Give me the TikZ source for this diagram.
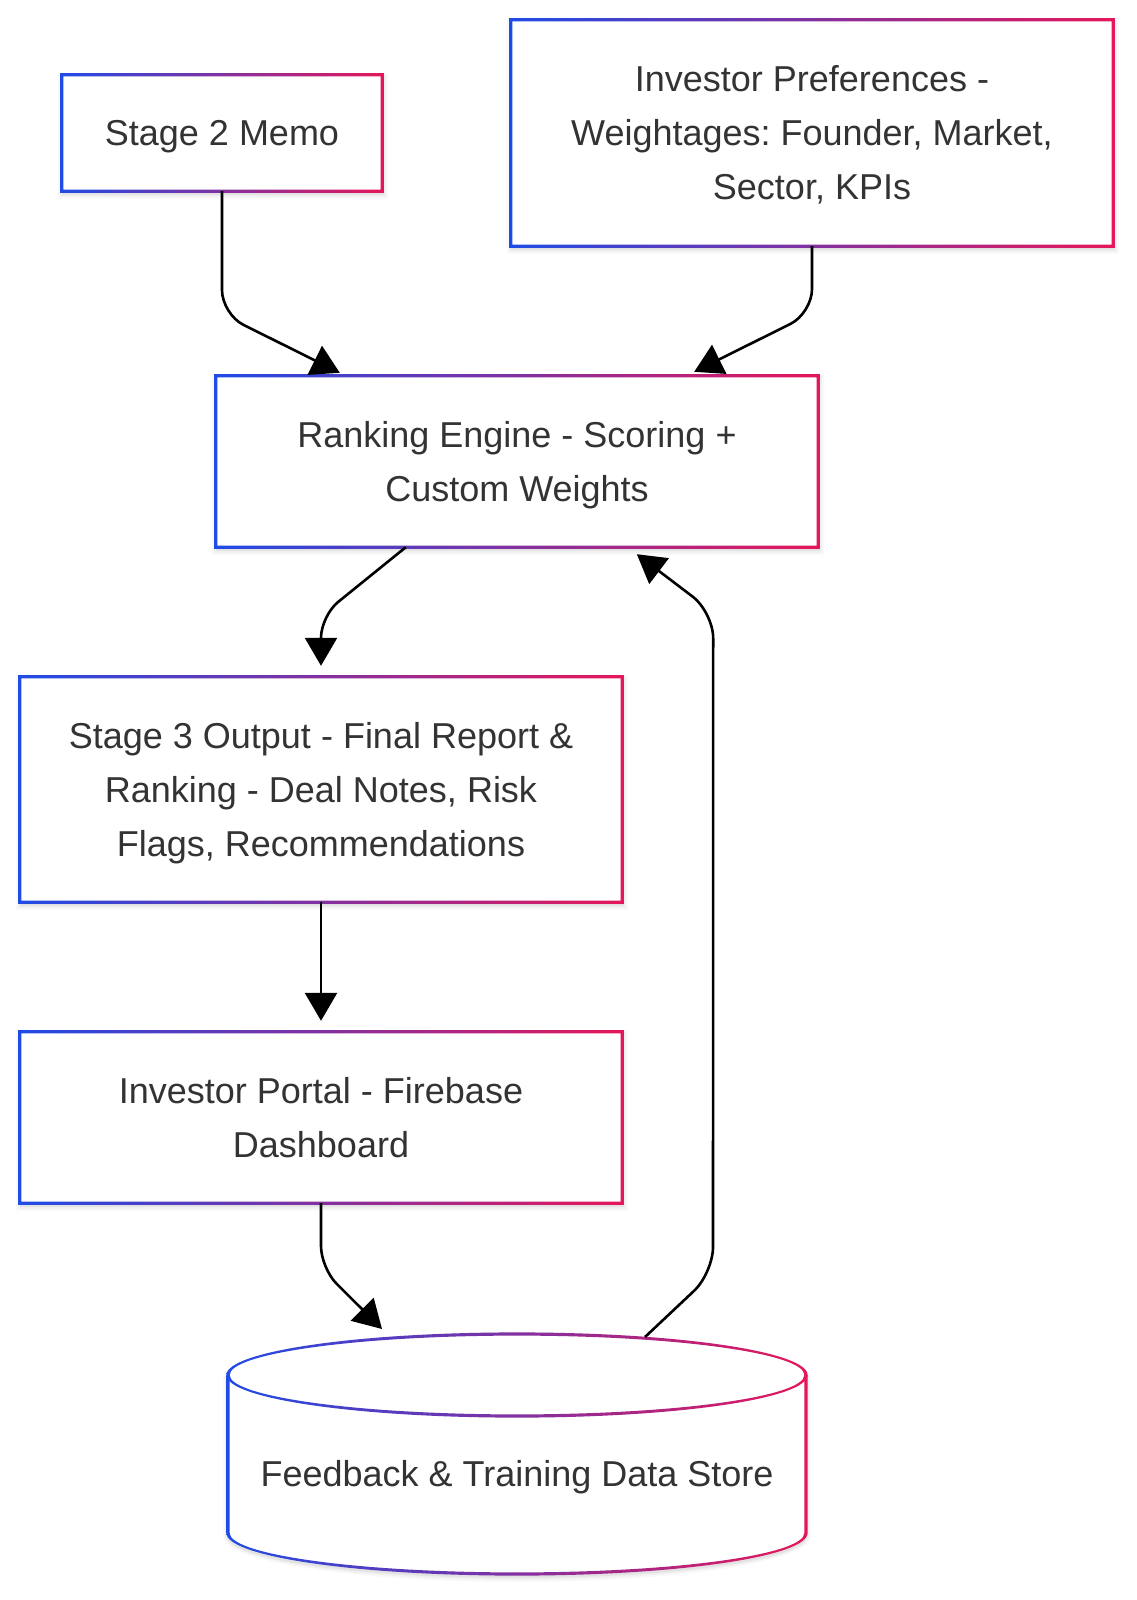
\documentclass[tikz,border=0pt]{standalone}
\usepackage{fontspec}
\setmainfont{Liberation Sans}
\usetikzlibrary{arrows.meta,calc,backgrounds}
\frenchspacing
\definecolor{gblue}{HTML}{1F4BE6}
\definecolor{gred}{HTML}{E6175A}
\definecolor{txt}{HTML}{333333}
\newcommand\lsx{\rule[-14.5pt]{0pt}{54pt}}
\newcommand\gradrect[1]{%
  \begin{scope}[even odd rule]
    \clip ($(#1.north west)+(-1.6,-1.6)$) rectangle ($(#1.south east)+(1.6,1.6)$)
          ($(#1.north west)+(1.6,1.6)$) rectangle ($(#1.south east)+(-1.6,-1.6)$);
    \shade[left color=gblue, right color=gred] ($(#1.north west)+(-2,-2)$) rectangle ($(#1.south east)+(2,2)$);
  \end{scope}}
\newcommand\shadowrect[1]{%
  \foreach \s/\o in {1/0.05,3/0.035,5/0.025} {%
    \fill[black,opacity=\o] ($(#1.north west)+(1-\s,3-\s)$) rectangle ($(#1.south east)+(1+\s,3+\s)$);}}
\tikzset{
  box/.style={rectangle, fill=white, inner sep=0pt, align=center, text=txt,
    font=\fontsize{36pt}{54pt}\selectfont, minimum width=602pt},
  arr/.style={draw=black, line width=2.6pt, -{Triangle[length=28pt,width=32pt]}},
}
\begin{document}
\begin{tikzpicture}[x=1pt, y=-1pt, line join=round]
\useasboundingbox (0,0) rectangle (1137,1600);

% boxes
\node[box, minimum width=320pt, minimum height=116pt] (memo) at (222,133) {\lsx Stage 2 Memo};
\node[box, minimum height=226pt] (prefs) at (812,133)
  {\lsx Investor Preferences -\\\lsx Weightages: Founder, Market,\\\lsx Sector, KPIs};
\node[box, minimum height=171pt] (ranking) at (517,461.5)
  {\lsx Ranking Engine - Scoring +\\\lsx Custom Weights};
\node[box, minimum height=225pt] (stage3) at (321,789.5)
  {\lsx Stage 3 Output - Final Report \&\\\lsx Ranking - Deal Notes, Risk\\\lsx Flags, Recommendations};
\node[box, minimum height=171pt] (portal) at (321,1117.5)
  {\lsx Investor Portal - Firebase\\\lsx Dashboard};
\node[box, fill=none, minimum width=10pt] (store) at (517,1474) {\lsx Feedback \& Training Data Store};

% shadows and background
\begin{scope}[on background layer]
  \fill[white] (0,0) rectangle (1137,1600);
  \shadowrect{memo}\shadowrect{prefs}\shadowrect{ranking}\shadowrect{stage3}\shadowrect{portal}
  \foreach \s/\o in {1/0.05,3/0.035,5/0.025} {%
    \fill[black,opacity=\o] (228-\s,1378) -- (228-\s,1536)
      arc[start angle=180, end angle=360, x radius=289pt+\s pt, y radius=41pt+\s pt]
      -- (806+\s,1378) arc[start angle=0, end angle=180, x radius=289pt+\s pt, y radius=41pt+\s pt] -- cycle;}
  \fill[white] (228,1375) -- (228,1533)
      arc[start angle=180, end angle=360, x radius=289pt, y radius=41pt]
      -- (806,1375) arc[start angle=0, end angle=180, x radius=289pt, y radius=41pt] -- cycle;
\end{scope}

% gradient borders
\gradrect{memo}\gradrect{prefs}\gradrect{ranking}\gradrect{stage3}\gradrect{portal}

% cylinder border
\coordinate (ctop) at (517,1375);
\coordinate (cbot) at (517,1533);
\begin{scope}[even odd rule]
  \clip (ctop) ellipse [x radius=290.6pt, y radius=42.6pt]
        (ctop) ellipse [x radius=287.4pt, y radius=39.4pt];
  \shade[left color=gblue, right color=gred] (226,1330) rectangle (808,1578);
\end{scope}
\begin{scope}
  \clip (220,1533) rectangle (815,1590);
  \begin{scope}[even odd rule]
    \clip (cbot) ellipse [x radius=290.6pt, y radius=42.6pt]
          (cbot) ellipse [x radius=287.4pt, y radius=39.4pt];
    \shade[left color=gblue, right color=gred] (226,1330) rectangle (808,1578);
  \end{scope}
\end{scope}
\begin{scope}
  \clip (226.4,1375) rectangle (229.6,1533) (804.4,1375) rectangle (807.6,1533);
  \shade[left color=gblue, right color=gred] (226,1330) rectangle (808,1578);
\end{scope}

% connectors
\draw[arr, rounded corners=24pt] (memo.south) -- ($(memo.south)+(0,123)$) -- ($(ranking.north west)+(124,-3)$);
\draw[arr, rounded corners=24pt] (prefs.south) -- ($(prefs.south)+(0,67)$) -- ($(ranking.north east)+(-124,-4)$);
\draw[arr, rounded corners=22pt] ($(ranking.south west)+(190,0)$) -- ($(stage3.north)+(0,-61)$) -- ($(stage3.north)+(0,-11)$);
\draw[arr] (stage3.south) -- ($(portal.north)+(0,-11)$);
\draw[arr, rounded corners=22pt] (portal.south) -- ($(portal.south)+(0,65)$) -- ($(store.center)+(-135,-145)$);
\draw[arr, rounded corners=26pt] ($(store.center)+(128,-137)$) -- ($(store.center)+(196,-201)$)
   -- ($(ranking.south east)+(-105,65)$) -- ($(ranking.south west)+(421,7)$);
\end{tikzpicture}
\end{document}
